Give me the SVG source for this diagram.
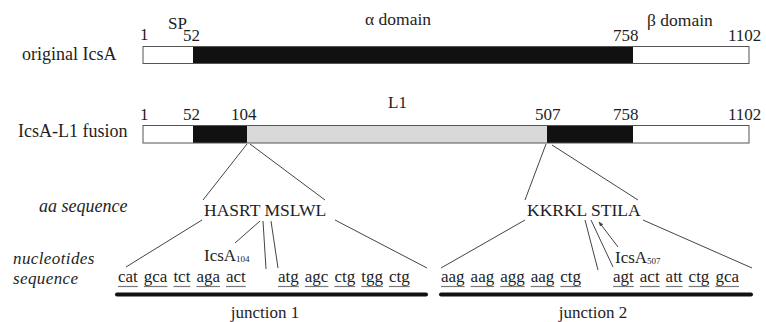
<svg xmlns="http://www.w3.org/2000/svg" width="766" height="322" viewBox="0 0 766 322">
<style>
text{font-family:"Liberation Serif","Times New Roman",serif;fill:#1e1e1e;font-size:17px}
.lab{font-size:18px}
.it{font-style:italic;font-size:18px}
.it2{font-style:italic;font-size:17px;letter-spacing:0.4px}
.aa{font-size:17.5px}
.sub{font-size:9px}
.bar{stroke:#555;stroke-width:1}
.w{fill:#fff}
.k{fill:#111}
.g{fill:#d9d9d9}
.ln{stroke:#444;stroke-width:1;fill:none}
.ul{stroke:#777;stroke-width:1.2}
.thick{stroke:#111;stroke-width:4;stroke-linecap:round}
</style>
<defs>
<marker id="ah" viewBox="0 0 10 10" refX="9" refY="5" markerWidth="5" markerHeight="5" orient="auto">
<path d="M0,1 L10,5 L0,9 z" fill="#444"/>
</marker>
</defs>

<g id="original-icsa">
<text class="lab" x="22" y="60">original IcsA</text>
<rect class="w" x="143" y="46.5" width="606" height="17"/>
<rect class="k" x="193" y="46.5" width="440" height="17"/>
<rect class="bar" fill="none" x="143" y="46.5" width="606" height="17"/>
<text x="140" y="40">1</text>
<text x="168" y="29">SP</text>
<text x="183" y="41">52</text>
<text style="font-size:17.5px" x="365" y="25">α domain</text>
<text x="613" y="41">758</text>
<text style="font-size:17.5px" x="647" y="26">β domain</text>
<text x="728" y="41">1102</text>
</g>

<g id="icsa-l1-fusion">
<text class="lab" x="18" y="137">IcsA-L1 fusion</text>
<rect class="w" x="143" y="125.5" width="606" height="17.5"/>
<rect class="k" x="193" y="125.5" width="54" height="17.5"/>
<rect class="g" x="247" y="125.5" width="300" height="17.5"/>
<rect class="k" x="547" y="125.5" width="86" height="17.5"/>
<rect class="bar" fill="none" x="143" y="125.5" width="606" height="17.5"/>
<text x="140" y="120">1</text>
<text x="183" y="120">52</text>
<text x="231" y="120">104</text>
<text x="388" y="108">L1</text>
<text x="535" y="120">507</text>
<text x="613" y="120">758</text>
<text x="728" y="120">1102</text>
</g>

<g id="row-labels">
<text class="it" x="39" y="212">aa sequence</text>
<text class="it2" x="13" y="263.5">nucleotides</text>
<text class="it2" x="13" y="284">sequence</text>
</g>

<g id="junction1">
<text class="aa" x="204" y="216">HASRT MSLWL</text>
<text x="204" y="261">IcsA<tspan class="sub" dy="1">104</tspan></text>
<text x="118" y="282">cat</text>
<text x="143.8" y="282">gca</text>
<text x="173.4" y="282">tct</text>
<text x="196.4" y="282">aga</text>
<text x="226" y="282">act</text>
<text x="278" y="282">atg</text>
<text x="304.8" y="282">agc</text>
<text x="334.4" y="282">ctg</text>
<text x="361.2" y="282">tgg</text>
<text x="388.9" y="282">ctg</text>
<g>
<line class="ul" x1="118" y1="286.5" x2="137.8" y2="286.5"/>
<line class="ul" x1="143.8" y1="286.5" x2="167.4" y2="286.5"/>
<line class="ul" x1="173.4" y1="286.5" x2="190.4" y2="286.5"/>
<line class="ul" x1="196.4" y1="286.5" x2="220" y2="286.5"/>
<line class="ul" x1="226" y1="286.5" x2="245.8" y2="286.5"/>
<line class="ul" x1="278" y1="286.5" x2="298.8" y2="286.5"/>
<line class="ul" x1="304.8" y1="286.5" x2="328.4" y2="286.5"/>
<line class="ul" x1="334.4" y1="286.5" x2="355.2" y2="286.5"/>
<line class="ul" x1="361.2" y1="286.5" x2="382.9" y2="286.5"/>
<line class="ul" x1="388.9" y1="286.5" x2="409.7" y2="286.5"/>
</g>
<line class="thick" x1="117" y1="294.5" x2="426" y2="294.5"/>
<text x="265" y="318" text-anchor="middle">junction 1</text>
</g>

<g id="junction2">
<text class="aa" x="527" y="216">KKRKL STILA</text>
<text x="615" y="263">IcsA<tspan class="sub" dy="1">507</tspan></text>
<text x="441" y="282">aag</text>
<text x="470.6" y="282">aag</text>
<text x="500.2" y="282">agg</text>
<text x="530.7" y="282">aag</text>
<text x="560.3" y="282">ctg</text>
<text x="613" y="282">agt</text>
<text x="639.8" y="282">act</text>
<text x="665.6" y="282">att</text>
<text x="688.6" y="282">ctg</text>
<text x="715.4" y="282">gca</text>
<g>
<line class="ul" x1="441" y1="286.5" x2="464.6" y2="286.5"/>
<line class="ul" x1="470.6" y1="286.5" x2="494.2" y2="286.5"/>
<line class="ul" x1="500.2" y1="286.5" x2="524.7" y2="286.5"/>
<line class="ul" x1="530.7" y1="286.5" x2="554.3" y2="286.5"/>
<line class="ul" x1="560.3" y1="286.5" x2="581.1" y2="286.5"/>
<line class="ul" x1="613" y1="286.5" x2="633.8" y2="286.5"/>
<line class="ul" x1="639.8" y1="286.5" x2="659.6" y2="286.5"/>
<line class="ul" x1="665.6" y1="286.5" x2="682.6" y2="286.5"/>
<line class="ul" x1="688.6" y1="286.5" x2="709.4" y2="286.5"/>
<line class="ul" x1="715.4" y1="286.5" x2="739" y2="286.5"/>
</g>
<line class="thick" x1="441" y1="294.5" x2="751" y2="294.5"/>
<text x="593" y="318" text-anchor="middle">junction 2</text>
</g>

<g id="connectors">
<line class="ln" x1="247" y1="144" x2="203" y2="200"/>
<line class="ln" x1="250" y1="144" x2="325" y2="200"/>
<line class="ln" x1="546" y1="144" x2="525" y2="200"/>
<line class="ln" x1="552" y1="145" x2="638" y2="200"/>
<line class="ln" x1="202" y1="220" x2="126" y2="267"/>
<line class="ln" x1="260" y1="221" x2="235" y2="243"/>
<line class="ln" x1="263" y1="221" x2="266" y2="269"/>
<line class="ln" x1="271" y1="221" x2="278" y2="268"/>
<line class="ln" x1="335" y1="220" x2="427" y2="268"/>
<line class="ln" x1="525" y1="220" x2="441" y2="268"/>
<line class="ln" x1="585" y1="220" x2="598" y2="270"/>
<line class="ln" x1="591" y1="220" x2="613" y2="267"/>
<line class="ln" x1="618" y1="247" x2="599" y2="222" marker-end="url(#ah)"/>
<line class="ln" x1="643" y1="220" x2="752" y2="268"/>
</g>
</svg>
